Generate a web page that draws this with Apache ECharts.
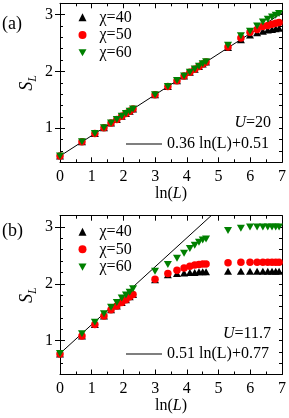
<!DOCTYPE html>
<html>
<head>
<meta charset="utf-8">
<script src="https://cdn.jsdelivr.net/npm/echarts@6/dist/echarts.min.js"></script>
<style>html,body{margin:0;padding:0;background:#fff}#c{width:289px;height:418px}</style>
</head>
<body>
<div id="c"></div>
<script>
// ---- data ----
const lnL = [0, 0.693, 1.099, 1.386, 1.609, 1.792, 1.946, 2.079, 2.197, 2.303,
  2.996, 3.401, 3.689, 3.912, 4.094, 4.248, 4.382, 4.500, 4.605,
  5.298, 5.704, 5.991, 6.215, 6.397, 6.551, 6.685, 6.802, 6.908];

const a_chi40 = [0.51, 0.76, 0.905, 1.01, 1.09, 1.155, 1.21, 1.258, 1.30, 1.339,
  1.589, 1.734, 1.838, 1.918, 1.984, 2.039, 2.088, 2.13, 2.168,
  2.42, 2.56, 2.64, 2.68, 2.71, 2.73, 2.74, 2.75, 2.76];
const a_chi50 = [0.51, 0.76, 0.905, 1.01, 1.09, 1.155, 1.21, 1.258, 1.30, 1.339,
  1.589, 1.734, 1.838, 1.918, 1.984, 2.039, 2.088, 2.13, 2.168,
  2.43, 2.59, 2.69, 2.74, 2.79, 2.81, 2.83, 2.85, 2.86];
const a_chi60 = [0.51, 0.76, 0.905, 1.01, 1.09, 1.155, 1.21, 1.258, 1.30, 1.339,
  1.59, 1.736, 1.84, 1.92, 1.987, 2.042, 2.09, 2.135, 2.172,
  2.46, 2.63, 2.71, 2.80, 2.87, 2.92, 2.96, 2.99, 3.02];

const b_chi40 = [0.76, 1.08, 1.28, 1.43, 1.54, 1.61, 1.67, 1.72, 1.77, 1.81,
  2.07, 2.16, 2.18, 2.19, 2.20, 2.20, 2.21, 2.21, 2.21,
  2.22, 2.22, 2.22, 2.22, 2.22, 2.22, 2.22, 2.22, 2.22];
const b_chi50 = [0.76, 1.08, 1.28, 1.43, 1.54, 1.61, 1.67, 1.72, 1.77, 1.81,
  2.08, 2.18, 2.24, 2.28, 2.31, 2.33, 2.34, 2.35, 2.35,
  2.37, 2.38, 2.38, 2.38, 2.38, 2.38, 2.38, 2.38, 2.38];
const b_chi60 = [0.77, 1.12, 1.32, 1.47, 1.585, 1.67, 1.75, 1.80, 1.85, 1.91,
  2.22, 2.34, 2.45, 2.54, 2.62, 2.68, 2.73, 2.77, 2.79,
  2.94, 2.98, 3.00, 3.00, 3.00, 3.00, 3.00, 3.00, 3.00];

const seriesNames = ['χ=40', 'χ=50', 'χ=60'];
const fitA = { name: '0.36 ln(L)+0.51', slope: 0.36, intercept: 0.51 };
const fitB = { name: '0.51 ln(L)+0.77', slope: 0.51, intercept: 0.77 };
const fitRange = [0, 7];
const xTicks = [0, 1, 2, 3, 4, 5, 6, 7];
const yTicks = [1, 2, 3];
const panelLabels = ['(a)', '(b)'];
const uLabels = ['20', '11.7'];

// ---- chart ----
const FONT = "'Liberation Serif', 'Times New Roman', serif";
const colors = ['#000000', '#ff0000', '#008000'];
const downTri = 'path://M0,0L10,0L5,9Z';
const symbols = ['triangle', 'circle', downTri];
const symSizes = [[8, 7], 7.5, [8, 7]];

const grids = [
  { left: 60, right: 7, top: 3.3, height: 159 },
  { left: 60, right: 7, top: 215.7, height: 158.8 }
];

const xAxes = [], yAxes = [];
grids.forEach((g, gi) => {
  const common = {
    gridIndex: gi, type: 'value', min: 0, max: 7, interval: 1,
    axisLine: { show: true, onZero: false, lineStyle: { color: '#000', width: 1 } },
    splitLine: { show: false },
    axisTick: { show: true, inside: true, length: 5, lineStyle: { color: '#000' } },
    minorTick: { show: true, splitNumber: 2, length: 3, lineStyle: { color: '#000' } }
  };
  xAxes.push(Object.assign({}, common, {
    position: 'bottom',
    axisLabel: { show: true, margin: 6, color: '#000', fontFamily: FONT, fontSize: 16 },
    name: 'ln({i|L})', nameLocation: 'middle', nameGap: 23, nameMoveOverlap: false,
    nameTextStyle: { color: '#000', fontFamily: FONT, fontSize: 16, lineHeight: 16,
      rich: { i: { fontStyle: 'italic', fontFamily: FONT, fontSize: 16, color: '#000' } } }
  }));
  xAxes.push(Object.assign({}, common, { position: 'top', axisLabel: { show: false } }));

  const ycommon = {
    gridIndex: gi, type: 'value', min: 0.4, max: 3.2, interval: 0.2,
    splitLine: { show: false }
  };
  ['left', 'right'].forEach(pos => {
    yAxes.push(Object.assign({}, ycommon, {
      position: pos,
      axisLine: { show: true, onZero: false, lineStyle: { color: '#000', width: 1 } },
      axisTick: { show: true, inside: true, length: 3, lineStyle: { color: '#000' } },
      axisLabel: pos === 'left' ? {
        show: true, margin: 7, color: '#000', fontFamily: FONT, fontSize: 16,
        formatter: v => (Math.abs(v - Math.round(v)) < 1e-6 && yTicks.indexOf(Math.round(v)) >= 0) ? String(Math.round(v)) : ''
      } : { show: false },
      name: pos === 'left' ? '{s|S}{l|L}' : '',
      nameLocation: 'middle', nameGap: 21, nameMoveOverlap: false,
      nameTextStyle: {
        rich: {
          s: { fontStyle: 'italic', fontFamily: FONT, fontSize: 18, color: '#000', verticalAlign: 'top', lineHeight: 18 },
          l: { fontStyle: 'italic', fontFamily: FONT, fontSize: 12, color: '#000', verticalAlign: 'top', padding: [9, 0, 0, 0] }
        }
      }
    }));
    yAxes.push(Object.assign({}, ycommon, {
      position: pos,
      axisLine: { show: false },
      axisTick: { show: true, inside: true, length: 5, customValues: yTicks, lineStyle: { color: '#000' } },
      axisLabel: { show: false }
    }));
  });
});

const panels = [
  { data: [a_chi40, a_chi50, a_chi60], fit: fitA },
  { data: [b_chi40, b_chi50, b_chi60], fit: fitB }
];

const series = [];
panels.forEach((p, gi) => {
  const xi = gi * 2, yi = gi * 4;
  series.push({
    type: 'line', name: p.fit.name, xAxisIndex: xi, yAxisIndex: yi,
    data: fitRange.map(x => [x, p.fit.slope * x + p.fit.intercept]),
    showSymbol: false, symbol: 'none', clip: true, silent: true,
    lineStyle: { color: '#000', width: 1 }, itemStyle: { color: '#000' }, z: 1
  });
  p.data.forEach((vals, si) => {
    series.push({
      type: 'scatter', name: seriesNames[si], xAxisIndex: xi, yAxisIndex: yi,
      data: lnL.map((x, i) => [x, vals[i]]),
      symbol: symbols[si], symbolSize: symSizes[si],
      itemStyle: { color: colors[si], opacity: 1 }, z: 2 + si, silent: true
    });
  });
});

const legendTops = [8.5, 222.8];
const fitLegendTops = [136, 346];
const legends = [];
legendTops.forEach((t, gi) => {
  legends.push({
    orient: 'vertical', left: 78.5, top: t, padding: 0, itemGap: 0,
    itemWidth: 8, itemHeight: 8, selectedMode: false,
    textStyle: { fontFamily: FONT, fontSize: 16, color: '#000', lineHeight: 17.7, padding: [0, 0, 0, 8] },
    data: seriesNames.map((n, i) => ({ name: n, icon: symbols[i], itemStyle: { color: colors[i] } }))
  });
  legends.push({
    left: 126, top: fitLegendTops[gi], padding: 0, itemWidth: 36, itemHeight: 1,
    selectedMode: false, icon: 'rect',
    textStyle: { fontFamily: FONT, fontSize: 16, color: '#000', lineHeight: 16 },
    data: [{ name: panels[gi].fit.name, itemStyle: { color: '#000' } }]
  });
});

const graphic = [
  { type: 'text', left: 2, top: 15, style: { text: panelLabels[0], fontFamily: FONT, fontSize: 18, fill: '#000' } },
  { type: 'text', left: 2, top: 222, style: { text: panelLabels[1], fontFamily: FONT, fontSize: 18, fill: '#000' } },
  { type: 'text', x: 271, y: 123, style: { text: '{i|U}=' + uLabels[0], align: 'right', verticalAlign: 'middle',
      fontFamily: FONT, fontSize: 16, fill: '#000', rich: { i: { fontStyle: 'italic', fontFamily: FONT, fontSize: 16 } } } },
  { type: 'text', x: 271, y: 334, style: { text: '{i|U}=' + uLabels[1], align: 'right', verticalAlign: 'middle',
      fontFamily: FONT, fontSize: 16, fill: '#000', rich: { i: { fontStyle: 'italic', fontFamily: FONT, fontSize: 16 } } } }
];

const chart = echarts.init(document.getElementById('c'), null, { renderer: 'canvas' });
chart.setOption({
  animation: false,
  backgroundColor: '#fff',
  textStyle: { fontFamily: FONT },
  grid: grids,
  xAxis: xAxes,
  yAxis: yAxes,
  legend: legends,
  graphic: graphic,
  series: series
});
</script>
</body>
</html>
